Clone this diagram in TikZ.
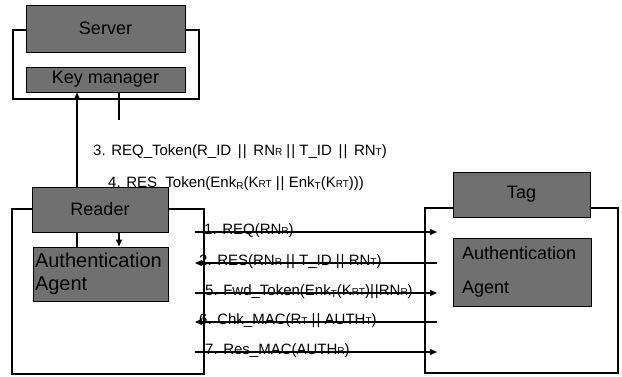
\documentclass[tikz,border=0pt]{standalone}
\usepackage{fontspec}
\setmainfont{Liberation Sans}
\usetikzlibrary{arrows.meta}
\definecolor{boxgray}{RGB}{112,112,112}
\newcommand{\sm}[1]{{\fontsize{10}{10}\selectfont #1}}
\newcommand{\lo}[1]{\raisebox{-2.5pt}{\fontsize{10}{10}\selectfont #1}}
\begin{document}
\begin{tikzpicture}[x=1pt,y=-1pt,
  frame/.style={draw=black,fill=white,line width=1.4pt,inner sep=0pt},
  gbox/.style={draw=black,fill=boxgray,line width=1pt,inner sep=0pt,
    font=\fontsize{18}{18}\selectfont,text=black},
  conn/.style={draw=black,line width=1.3pt},
  arr/.style={conn,-{Triangle[length=7pt,width=6pt]}},
  msg/.style={inner sep=0pt,anchor=base west,font=\fontsize{15}{15}\selectfont}]
\useasboundingbox (0,0) rectangle (622,376);
% frames
\node[frame,minimum width=186pt,minimum height=69pt] (sframe) at (106,64.5) {};
\node[frame,minimum width=192pt,minimum height=165pt] (rframe) at (108,291.5) {};
\node[frame,minimum width=193pt,minimum height=165pt] (tframe) at (521.5,290.5) {};
% helper coordinates
\coordinate (xl) at (77,0);
\coordinate (xr) at (119,0);
\coordinate (kmend) at (119,120);
% server side boxes
\node[gbox,minimum width=159pt,minimum height=47pt] (server) at (105.5,28.5) {Server};
\node[gbox,minimum width=159pt,minimum height=25pt] (keym) at (105.5,79.5) {Key manager};
\node[gbox,minimum width=135pt,minimum height=54pt,align=left,text width=131pt,
  font=\fontsize{20}{23}\selectfont] (ragent) at (100.5,274) {Authentication\\Agent};
% vertical links
\draw[arr] (ragent.north -| xl) -- (keym.south -| xl);
\draw[conn] (keym.south -| xr) -- (kmend);
% label 3 and 4
\node[msg] (l3) at (93,155) {3. REQ\_Token(R\_ID \,|\hspace{1pt}|\, RN\sm{R} |\hspace{1pt}| T\_ID \,|\hspace{1pt}|\, RN\sm{T})};
\node[msg] (l4) at (108,187) {4. RES\_Token(Enk\lo{R}(K\sm{RT} |\hspace{1pt}| Enk\lo{T}(K\sm{RT})))};
% reader box over label 4
\node[gbox,minimum width=136pt,minimum height=45pt] (reader) at (100,209.5) {Reader};
\draw[arr] (reader.south -| xr) -- (ragent.north -| xr);
% tag boxes
\node[gbox,minimum width=137pt,minimum height=45pt] (tag) at (521.5,194.5) {Tag};
\node[gbox,minimum width=138pt,minimum height=68pt,align=left,text width=120pt,
  font=\fontsize{18}{34}\selectfont] (tagent) at (522,272) {Authentication\\Agent};
% message coordinates
\coordinate (m1L) at (195,232); \coordinate (m1R) at (437,232);
\coordinate (m2L) at (195,263); \coordinate (m2R) at (437,263);
\coordinate (m5L) at (195,293); \coordinate (m5R) at (437,293);
\coordinate (m6L) at (195,322); \coordinate (m6R) at (437,322);
\coordinate (m7L) at (195,352); \coordinate (m7R) at (437,352);
\draw[arr] (m1L) -- (m1R);
\draw[arr] (m2R) -- (m2L);
\draw[arr] (m5L) -- (m5R);
\draw[arr] (m6R) -- (m6L);
\draw[arr] (m7L) -- (m7R);
\node[msg] (l1) at (204,234) {1. REQ(RN\sm{R})};
\node[msg] (l2) at (199,265) {2. RES(RN\sm{R} |\hspace{1pt}| T\_ID |\hspace{1pt}| RN\sm{T})};
\node[msg] (l5) at (205,295) {5. Fwd\_Token(Enk\lo{T}(K\sm{RT})|\hspace{1pt}|RN\sm{R})};
\node[msg] (l6) at (199,324) {6. Chk\_MAC(R\sm{T} |\hspace{1pt}| AUTH\sm{T})};
\node[msg] (l7) at (205,354) {7. Res\_MAC(AUTH\sm{R})};
\end{tikzpicture}
\end{document}
